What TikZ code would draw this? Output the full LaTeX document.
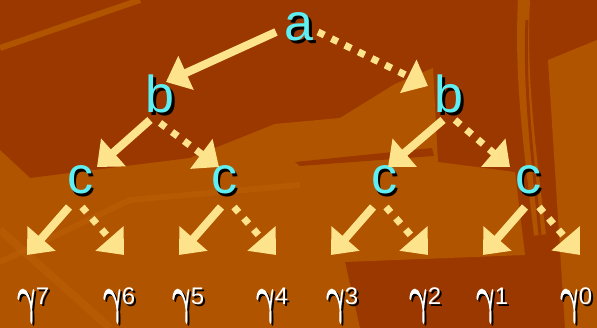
\documentclass[tikz,border=0pt]{standalone}
\usepackage{fontspec}
\setmainfont{Liberation Sans}
\newfontfamily\gamfont[FakeBold=2.2]{Latin Modern Math}
\usetikzlibrary{arrows.meta}

\definecolor{rustbg}{RGB}{155,56,0}
\definecolor{rustmid}{RGB}{176,84,0}
\definecolor{rustlite}{RGB}{188,96,8}
\definecolor{arrowfill}{RGB}{253,228,140}
\definecolor{lettercyan}{RGB}{95,238,242}

\newcommand{\gampow}[1]{\scalebox{0.72}[1.12]{\gamfont\fontsize{46}{46}\selectfont γ}\kern-0.5pt\raisebox{7pt}{\fontsize{24}{24}\selectfont #1}}

\tikzset{
  letter/.style={text=lettercyan, font=\fontsize{52}{52}\selectfont, inner sep=0pt},
  power/.style={text=white, font=\fontsize{40}{40}\selectfont, inner sep=0pt, anchor=base},
  shadowtxt/.style={text=black},
  solidarr/.style={draw=arrowfill, line width=8pt, -{Triangle[width=36pt,length=22pt]}},
  dotarr/.style={solidarr, line width=7pt, dash pattern=on 7pt off 8pt},
}

\begin{document}
\begin{tikzpicture}[x=1pt, y=-1pt]
  % background
  \fill[rustbg] (0,0) rectangle (597,328);
  \useasboundingbox (0,0) rectangle (597,328);
  \fill[rustmid] (0,150) -- (30,178) -- (190,158) -- (275,124) -- (340,118)
    -- (395,84) -- (433,68) -- (438,162) -- (515,172) -- (525,255)
    -- (345,262) -- (360,328) -- (0,328) -- cycle;
  \fill[rustbg] (295,162) -- (432,148) -- (434,156) -- (300,166) -- cycle;
  \fill[rustmid] (548,60) -- (597,40) -- (597,328) -- (565,328) -- cycle;
  \draw[rustmid, line width=12pt] (524,0) .. controls (520,80) and (530,150) .. (540,235);
  \draw[rustbg, line width=3pt] (527,20) .. controls (524,90) and (532,150) .. (540,235);
  \draw[rustmid, line width=6pt] (0,48) -- (140,0);
  \draw[rustlite, line width=8pt, opacity=.5] (0,230) -- (110,328);
  \draw[rustlite, line width=6pt, opacity=.5] (0,262) -- (130,200) -- (300,185);

  % letters with shadow
  \foreach \n/\x/\y/\t in {a/299/27/a, b1/160/94/b, b2/449/94/b,
      c1/80/180/c, c2/224/180/c, c3/384/180/c, c4/528/180/c}{
    \node[letter, shadowtxt] at (\x+2.5,\y+2.5) {\t};
    \node[letter] (\n) at (\x,\y) {\t};
  }

  % leaves
  \foreach \n/\x/\d in {g7/33/7, g6/119/6, g5/188/5, g4/272/4,
      g3/342/3, g2/425/2, g1/492/1, g0/576/0}{
    \node[power, shadowtxt] at (\x+2,314) {\gampow{\d}};
    \node[power] (\n) at (\x,312) {\gampow{\d}};
  }

  % arrows
  \draw[solidarr] ([shift={(-23,5)}]a.center) -- ([shift={(6,-12)}]b1.center);
  \draw[dotarr] ([shift={(19,5)}]a.center) -- ([shift={(-21,-8)}]b2.center);
  \draw[solidarr] ([shift={(-10,26)}]b1.center) -- ([shift={(17,-13)}]c1.center);
  \draw[dotarr] ([shift={(0,29)}]b1.center) -- ([shift={(-5,-13)}]c2.center);
  \draw[solidarr] ([shift={(-6,26)}]b2.center) -- ([shift={(4,-13)}]c3.center);
  \draw[dotarr] ([shift={(6,26)}]b2.center) -- ([shift={(-18,-13)}]c4.center);
  \foreach \c/\sx/\g/\tx/\st in {c1/-11/g7/-6/solidarr, c1/2/g6/5/dotarr,
      c2/-3/g5/-9/solidarr, c2/10/g4/4/dotarr, c3/-11/g3/-11/solidarr,
      c3/2/g2/3/dotarr, c4/-3/g1/-9/solidarr, c4/11/g0/4/dotarr}
    \draw[\st] ([shift={(\sx,27)}]\c.center) -- ([shift={(\tx,-57)}]\g.base);
\end{tikzpicture}
\end{document}
